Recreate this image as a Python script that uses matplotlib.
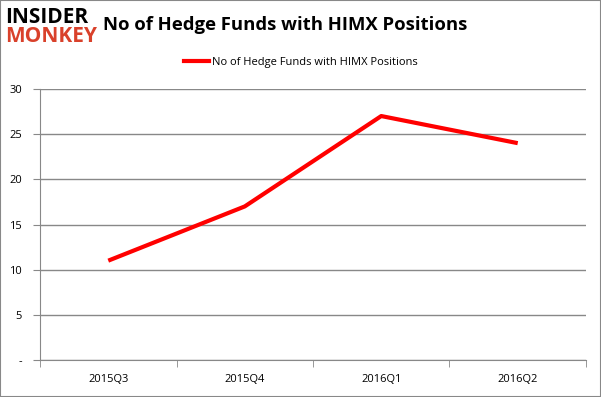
import numpy as np
import matplotlib.pyplot as plt
from matplotlib.lines import Line2D

quarters = ["2015Q3", "2015Q4", "2016Q1", "2016Q2"]
hedge_funds = [11, 17, 27, 24]
y_ticks = [0, 5, 10, 15, 20, 25, 30]
y_labels = ["-", "5", "10", "15", "20", "25", "30"]

plt.rcParams['font.family'] = ['Open Sans', 'DejaVu Sans']

fig = plt.figure(figsize=(6.01, 3.97), dpi=100)
ax = fig.add_axes([0.0666, 0.093, 0.9084, 0.683])

x = np.arange(len(quarters)) + 0.5
ax.plot(x, hedge_funds, color='#ff0000', linewidth=3, solid_capstyle='butt')

ax.set_xlim(0, len(quarters))
ax.set_ylim(0, 30)
ax.set_yticks(y_ticks)
ax.set_yticklabels(y_labels, fontsize=8)
ax.set_xticks(x)
ax.set_xticklabels(quarters, fontsize=8)
ax.set_xticks(np.arange(len(quarters) + 1), minor=True)
ax.tick_params(axis='x', which='major', length=0, pad=10)
ax.tick_params(axis='x', which='minor', length=5, color='#888888')
ax.tick_params(axis='y', length=5, color='#888888', pad=8)
ax.grid(axis='y', color='#888888', linewidth=1)
ax.set_axisbelow(True)
for s in ['top', 'right']:
    ax.spines[s].set_visible(False)
for s in ['left', 'bottom']:
    ax.spines[s].set_color('#888888')

fig.text(0.172, 0.937, "No of Hedge Funds with HIMX Positions", fontsize=13.3,
         fontweight='bold', va='center', ha='left')
fig.text(0.008, 0.956, "INSIDER", fontsize=15, fontweight='bold', color='black',
         va='center', fontstretch='condensed')
fig.text(0.008, 0.908, "MONKEY", fontsize=15, fontweight='bold', color='#d9412b',
         va='center', fontstretch='condensed')

handle = Line2D([], [], color='#ff0000', linewidth=3)
fig.legend([handle], ["No of Hedge Funds with HIMX Positions"], loc='center',
           bbox_to_anchor=(0.5, 0.843), frameon=False, fontsize=8,
           handlelength=2.3, handletextpad=0.2)

border = plt.Rectangle((0, 0), 1, 1, transform=fig.transFigure, fill=False,
                       edgecolor='#888888', linewidth=1.5)
fig.patches.append(border)

fig.savefig("out.png", dpi=100)
